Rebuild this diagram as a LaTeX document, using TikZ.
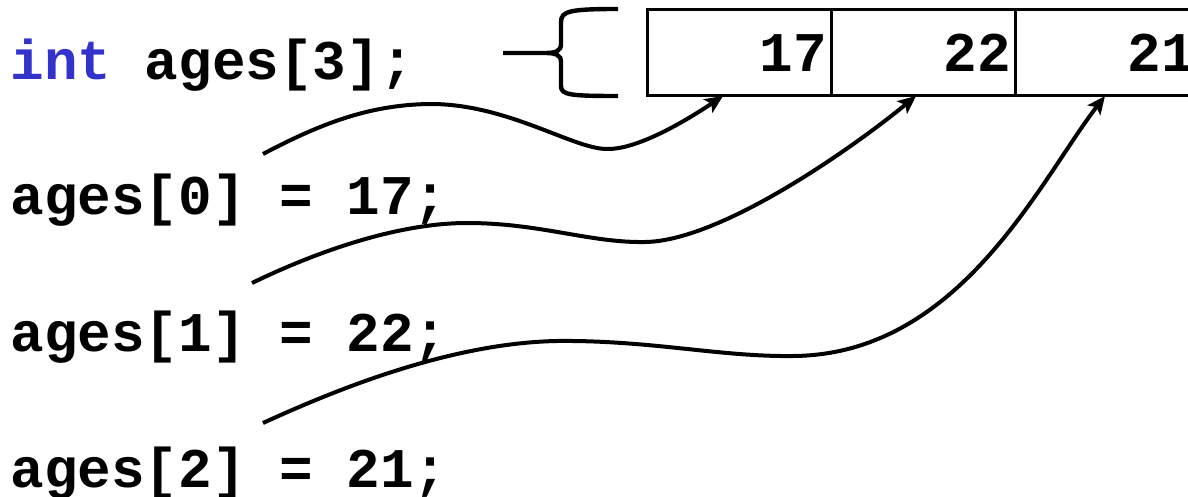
\documentclass[tikz,border=0pt]{standalone}
\usepackage{fontspec}
\setmonofont{Liberation Mono}
\usepackage{tikz}
\usetikzlibrary{arrows.meta,positioning}

\definecolor{kwblue}{RGB}{51,51,204}
\newcommand{\codefont}{\fontsize{28}{33}\selectfont\ttfamily\bfseries}

\begin{document}
\begin{tikzpicture}[x=0.5pt,y=-0.5pt,
	code/.style={font=\codefont,anchor=base west,inner sep=0pt},
	cell/.style={draw,line width=1.5pt,font=\codefont,minimum width=92pt,minimum height=43pt,
		text width=88pt,align=right,inner sep=0pt,outer sep=0pt},
	ptr/.style={-{Stealth[length=9pt,width=8pt,inset=2pt]},line width=2pt}]

\useasboundingbox (0,0) rectangle (1188,497);
\clip (0,0) rectangle (1188,497);

\node[code]   (decl)  at (10,80)   {\textcolor{kwblue}{int} ages[3];};
\node[code]   (stmt0) at (10,215)  {ages[0] = 17;};
\node[code]   (stmt1) at (10,351)  {ages[1] = 22;};
\node[code]   (stmt2) at (10,487)  {ages[2] = 21;};

\node[cell]   (cell0) at (739,53)        {17};
\node[cell]   (cell1) [right=0pt of cell0] {22};
\node[cell]   (cell2) [right=0pt of cell1] {21};

% brace in front of the array
\coordinate (bracetip) at (503,53);
\draw[line width=2.2pt] (618,9) .. controls (570,9) and (561,11) .. (561,22) -- (561,44)
	.. controls (561,51) and (556,53) .. (545,53) -- (bracetip) -- (545,53)
	.. controls (556,53) and (561,55) .. (561,62) -- (561,86)
	.. controls (561,95) and (570,96) .. (618,96);

\coordinate (from0) at (263,154);
\coordinate (from1) at (252,283);
\coordinate (from2) at (263,423);

\draw[ptr] (from0) .. controls (320,124) and (370,104) .. (433,104)
	.. controls (510,105) and (575,150) .. (608,149)
	.. controls (640,149) and (690,118) .. ([xshift=-8pt]cell0.south);
\draw[ptr] (from1) .. controls (320,250) and (400,223) .. (467,223)
	.. controls (540,223) and (590,243) .. (645,242)
	.. controls (720,241) and (850,150) .. ([xshift=-3.5pt]cell1.south);
\draw[ptr] (from2) .. controls (335,390) and (450,343) .. (557,341)
	.. controls (650,340) and (720,357) .. (793,356)
	.. controls (960,355) and (1040,180) .. ([xshift=-1pt]cell2.south);

\end{tikzpicture}
\end{document}
